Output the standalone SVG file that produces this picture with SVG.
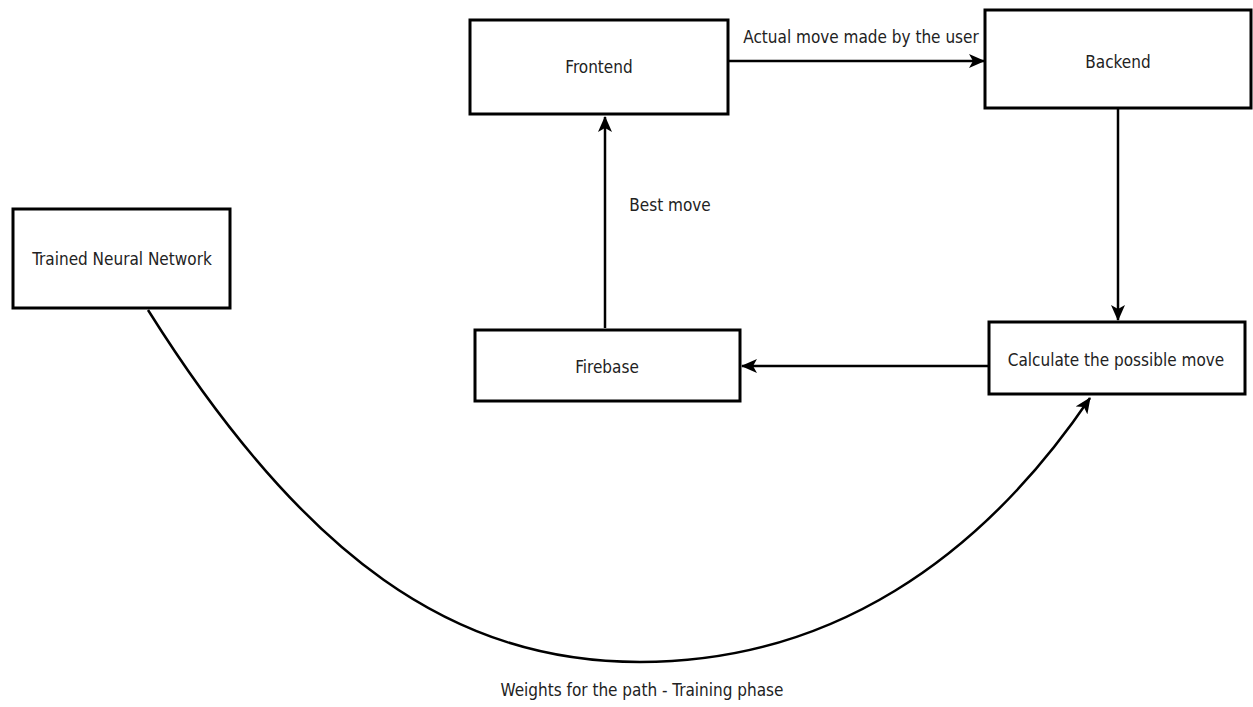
<svg xmlns="http://www.w3.org/2000/svg" width="1253" height="707" viewBox="0 0 1253 707">
<style>
.box{fill:#fff;stroke:#000;stroke-width:3}
.t{font-family:"DejaVu Sans Condensed","DejaVu Sans",sans-serif;font-stretch:condensed;font-size:17px;fill:#222}
.c{fill:none;stroke:#000;stroke-width:2.5}
</style>
<defs>
<marker id="a" viewBox="0 0 16 14" refX="15" refY="7" markerWidth="16" markerHeight="14" markerUnits="userSpaceOnUse" orient="auto">
<path d="M0,0 L16,7 L0,14 L4,7 Z" fill="#000"/>
</marker>
</defs>
<rect width="1253" height="707" fill="#fff"/>
<g id="connectors">
<path class="c" d="M728,61 H984" marker-end="url(#a)"/>
<path class="c" d="M1118,104 V320" marker-end="url(#a)"/>
<path class="c" d="M989,366 H742" marker-end="url(#a)"/>
<path class="c" d="M605,328 V117" marker-end="url(#a)"/>
<path class="c" d="M148,310 C305,560 455,662 640,662 C830,662 980,560 1090,398" marker-end="url(#a)"/>
<text class="t" x="861" y="43" text-anchor="middle">Actual move made by the user</text>
<text class="t" x="670" y="211" text-anchor="middle">Best move</text>
<text class="t" x="642" y="696" text-anchor="middle">Weights for the path - Training phase</text>
</g>
<g id="frontend"><rect class="box" x="470" y="20" width="258" height="94"/><text class="t" x="599" y="73" text-anchor="middle">Frontend</text></g>
<g id="backend"><rect class="box" x="985" y="10" width="266" height="98"/><text class="t" x="1118" y="68" text-anchor="middle">Backend</text></g>
<g id="nn"><rect class="box" x="13" y="209" width="217" height="99"/><text class="t" x="122" y="265" text-anchor="middle">Trained Neural Network</text></g>
<g id="firebase"><rect class="box" x="475" y="330" width="265" height="71"/><text class="t" x="607" y="373" text-anchor="middle">Firebase</text></g>
<g id="calc"><rect class="box" x="989" y="322" width="256" height="72"/><text class="t" x="1116" y="366" text-anchor="middle">Calculate the possible move</text></g>
</svg>
